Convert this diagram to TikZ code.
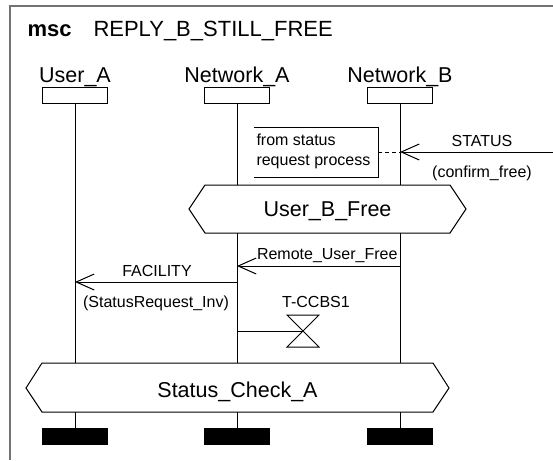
\documentclass[tikz,border=0pt]{standalone}
\usepackage{fontspec}
\setmainfont{Liberation Sans}
\usetikzlibrary{arrows.meta}

\tikzset{
  big/.style={font=\fontsize{21.5}{25}\selectfont, inner sep=0pt},
  small/.style={font=\fontsize{16}{19}\selectfont, inner sep=0pt},
  headbox/.style={draw, minimum width=65pt, minimum height=16pt, inner sep=0pt},
  endbar/.style={fill=black, minimum width=66pt, minimum height=17pt, inner sep=0pt},
  msg/.style={-{Straight Barb[length=18pt,width=16pt]}},
  cond/.style={draw, fill=white},
}

\begin{document}
\begin{tikzpicture}[x=1pt, y=-1pt, line width=1pt]
          \useasboundingbox (0,0) rectangle (553,460);
          % Frame and title
          \draw[black!55, line width=1.5pt] (10,460) -- (10,6) -- (553,6);
          \node[big, anchor=base west, font=\fontsize{22}{25}\selectfont\bfseries] (msc) at (27,37) {msc};
          \node[big, anchor=base west, font=\fontsize{22}{25}\selectfont] (title) at (93,37) {REPLY\_B\_STILL\_FREE};
          % Instances
          \foreach \x/\id/\name in {75/ua/User\_A, 237/na/Network\_A, 400/nb/Network\_B}{
            \node[big, anchor=base] (\id-name) at (\x,82) {\name};
            \node[headbox] (\id-head) at (\x,95) {};
            \node[endbar] (\id-end) at (\x,436.5) {};
            \draw (\id-head.south) -- (\id-end.north);
          }
          % Comment
          \draw (254,127) -- (378,127) -- (378,177) -- (254,177);
          \node[small, anchor=base west] (cmt1) at (256,145) {from status};
          \node[small, anchor=base west] (cmt2) at (256,165) {request process};
          \coordinate (cmt) at (378,152);
          \coordinate (nb-status) at (400,152);
          \coordinate (env) at (553,152);
          \draw[dash pattern=on 4pt off 3pt] (cmt) -- (nb-status);
          % STATUS
          \draw[msg] (env) -- (nb-status);
          \node[small, anchor=base] (status) at (482,146) {STATUS};
          \node[small, anchor=base] (confirm) at (482,177) {(confirm\_free)};
          % Condition User_B_Free
          \draw[cond] (189,209) -- (205,185) -- (450,185) -- (466,209) -- (450,233) -- (205,233) -- cycle;
          \node[big, anchor=base] (bfree) at (327.5,216) {User\_B\_Free};
          % Remote_User_Free
          \coordinate (nb-free) at (400,266);
          \coordinate (na-free) at (237,266);
          \draw[msg] (nb-free) -- (na-free);
          \node[small, anchor=base east] (remote) at (398,259) {Remote\_User\_Free};
          % FACILITY
          \coordinate (na-fac) at (237,282);
          \coordinate (ua-fac) at (75,282);
          \draw[msg] (na-fac) -- (ua-fac);
          \node[small, anchor=base] (facility) at (157,276) {FACILITY};
          \node[small, anchor=base] (statreq) at (156,307) {(StatusRequest\_Inv)};
          % Timer
          \coordinate (na-timer) at (237,331);
          \coordinate (timer) at (303,331);
          \draw (na-timer) -- (timer);
          \draw (287,315) -- (319,315) -- (287,347) -- (319,347) -- cycle;
          \node[small, anchor=base] (tccbs) at (316,307) {T-CCBS1};
          % Condition Status_Check_A
          \draw[cond] (26,388) -- (42,363) -- (433,363) -- (449,388) -- (433,412) -- (42,412) -- cycle;
          \node[big, anchor=base] (check) at (237.5,397) {Status\_Check\_A};
        \end{tikzpicture}
\end{document}
